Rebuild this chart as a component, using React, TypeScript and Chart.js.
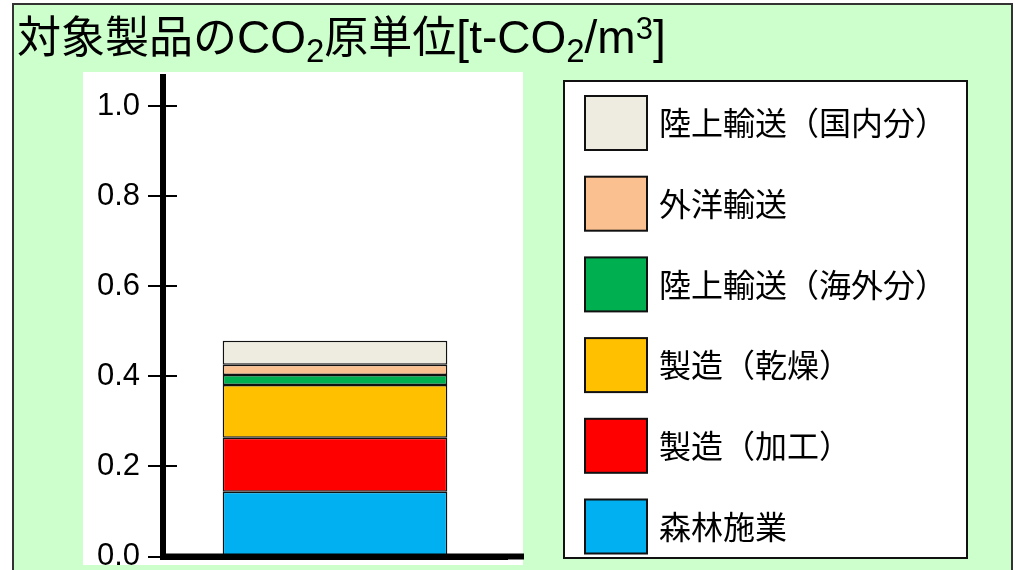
import { useEffect, useRef } from 'react';
import { Chart, registerables } from 'chart.js';

Chart.register(...registerables);

// ---- data ----
const categories = ['対象製品'];
const seriesNames = ['森林施業', '製造（加工）', '製造（乾燥）', '陸上輸送（海外分）', '外洋輸送', '陸上輸送（国内分）'];
const forestry = [0.144];
const processing = [0.120];
const drying = [0.117];
const overseasLand = [0.022];
const oceanShipping = [0.023];
const domesticLand = [0.053];
const seriesColors = ['#00B0F0', '#FF0000', '#FFC000', '#00B050', '#FAC090', '#EEECE1'];
const yTicks = [0, 0.2, 0.4, 0.6, 0.8, 1.0];
const yMax = 1.066;
const titleParts = [
  { text: '対象製品の', kind: 'cjk' },
  { text: 'CO', kind: 'lat' },
  { text: '2', kind: 'sub' },
  { text: '原単位', kind: 'cjk' },
  { text: '[t-CO', kind: 'lat' },
  { text: '2', kind: 'sub' },
  { text: '/m', kind: 'lat' },
  { text: '3', kind: 'sup' },
  { text: ']', kind: 'lat' },
];

const LAT = '"Liberation Sans", Arial, sans-serif';
const CJK = '"Noto Sans CJK JP", sans-serif';

const fontFor: Record<string, { font: string; dy: number }> = {
  cjk: { font: `44px ${CJK}`, dy: 0 },
  lat: { font: `46px ${LAT}`, dy: 0 },
  sub: { font: `33px ${LAT}`, dy: 9 },
  sup: { font: `31px ${LAT}`, dy: -14 },
};

const backgroundPlugin = {
  id: 'panelBackground',
  beforeDraw(chart: any) {
    const ctx = chart.ctx;
    ctx.save();
    ctx.fillStyle = '#ffffff';
    ctx.fillRect(0, 0, chart.width, chart.height);
    ctx.fillStyle = '#CCFFCC';
    ctx.fillRect(13, 4, 1000, 570);
    ctx.strokeStyle = '#333333';
    ctx.lineWidth = 2;
    ctx.strokeRect(13, 4, 999, 600);
    // plot area
    ctx.fillStyle = '#ffffff';
    ctx.fillRect(83, 72, 440, 493);
    // legend box
    ctx.fillStyle = '#ffffff';
    ctx.fillRect(564, 81, 403, 477);
    ctx.strokeStyle = '#111111';
    ctx.lineWidth = 2;
    ctx.strokeRect(564, 81, 403, 477);
    ctx.restore();
  },
};

const axisPlugin = {
  id: 'axisExtras',
  afterDatasetsDraw(chart: any) {
    const ctx = chart.ctx;
    const area = chart.chartArea;
    const y = chart.scales.y;
    ctx.save();
    ctx.strokeStyle = '#000';
    ctx.lineWidth = 6;
    ctx.beginPath();
    ctx.moveTo(area.left - 3, area.bottom);
    ctx.lineTo(area.right + 17, area.bottom);
    ctx.stroke();
    ctx.lineWidth = 2;
    for (const v of yTicks) {
      const py = Math.round(y.getPixelForValue(v));
      ctx.beginPath();
      ctx.moveTo(area.left - 15, py);
      ctx.lineTo(area.left + 14, py);
      ctx.stroke();
    }
    ctx.restore();
  },
};

const titleLegendPlugin = {
  id: 'titleLegend',
  afterDraw(chart: any) {
    const ctx = chart.ctx;
    ctx.save();
    // title
    let x = 17;
    const base = 53;
    ctx.fillStyle = '#000';
    ctx.textBaseline = 'alphabetic';
    ctx.textAlign = 'left';
    for (const p of titleParts) {
      const f = fontFor[p.kind];
      ctx.font = f.font;
      ctx.fillText(p.text, x, base + f.dy);
      x += ctx.measureText(p.text).width;
    }
    // legend
    const ds = chart.data.datasets.slice().reverse();
    ds.forEach((d: any, i: number) => {
      const top = 96 + i * 80.7;
      ctx.fillStyle = d.backgroundColor;
      ctx.fillRect(585, top, 62, 54);
      ctx.strokeStyle = '#111';
      ctx.lineWidth = 2;
      ctx.strokeRect(585, top, 62, 54);
      ctx.fillStyle = '#000';
      ctx.font = `32px ${CJK}`;
      ctx.textBaseline = 'middle';
      ctx.fillText(d.label, 659, top + 27);
    });
    ctx.restore();
  },
};

const seriesValues = [forestry, processing, drying, overseasLand, oceanShipping, domesticLand];

export default function App() {
  const ref = useRef<HTMLCanvasElement>(null);
  useEffect(() => {
    const chart = new Chart(ref.current!, {
      type: 'bar',
      data: {
        labels: categories,
        datasets: seriesNames.map((name, i) => ({
          label: name,
          data: seriesValues[i],
          backgroundColor: seriesColors[i],
          borderColor: '#111111',
          borderWidth: 1.5,
          borderSkipped: false,
          barPercentage: 0.653,
          categoryPercentage: 1,
        })),
      },
      options: {
        animation: false,
        responsive: false,
        devicePixelRatio: 1,
        layout: { padding: { left: 85, top: 76.5, right: 508, bottom: 13.5 } },
        plugins: {
          legend: { display: false },
          title: { display: false },
          tooltip: { enabled: false },
        },
        scales: {
          x: {
            stacked: true,
            grid: { display: false, drawTicks: false, tickLength: 0 },
            ticks: { display: false },
            border: { display: true, width: 6, color: '#000' },
            afterFit: (s: any) => {
              s.height = 0;
              s.paddingLeft = 0; s.paddingRight = 0; s.paddingTop = 0; s.paddingBottom = 0;
            },
          },
          y: {
            stacked: true,
            min: 0,
            max: yMax,
            grid: { display: false, drawTicks: false, tickLength: 0 },
            border: { display: true, width: 6, color: '#000' },
            ticks: {
              padding: 23,
              color: '#000',
              font: { family: LAT, size: 31 },
              callback: (v: any) => Number(v).toFixed(1),
            },
            afterBuildTicks: (s: any) => { s.ticks = yTicks.map((v) => ({ value: v })); },
            afterFit: (s: any) => {
              s.width = 78;
              s.paddingTop = 0; s.paddingBottom = 0; s.paddingLeft = 0; s.paddingRight = 0;
            },
          },
        },
      },
      plugins: [backgroundPlugin, axisPlugin, titleLegendPlugin],
    } as any);
    return () => chart.destroy();
  }, []);
  return (
    <div style={{ position: 'absolute', left: 0, top: 0, width: 1015, height: 570 }}>
      <canvas ref={ref} width={1015} height={570} style={{ display: 'block', width: 1015, height: 570 }} />
    </div>
  );
}
